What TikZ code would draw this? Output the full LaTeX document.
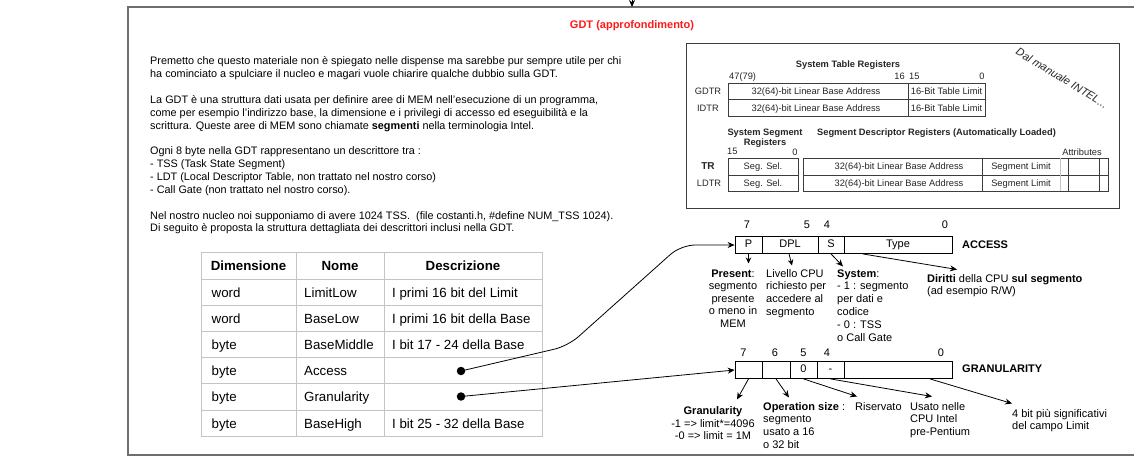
\documentclass[tikz,border=0pt]{standalone}
\usepackage{fontspec}
\setmainfont{Liberation Sans}
\usetikzlibrary{arrows.meta,calc}
\definecolor{frameg}{HTML}{6E6E6E}
\definecolor{tblg}{HTML}{C4C4C4}
\definecolor{titred}{HTML}{FF1A1A}
\definecolor{intg}{HTML}{3C3C3C}
\definecolor{intt}{HTML}{262626}
\newcommand\fsz[2]{\fontsize{#1}{#2}\selectfont}
\tikzset{
  para/.style={font=\fsz{10.85}{12.85}, inner sep=0, align=left, anchor=base west},
  ann/.style={font=\fsz{11}{12.8}, inner sep=0, align=left, anchor=base west},
  annc/.style={font=\fsz{11}{12.5}, inner sep=0, align=center, anchor=base},
  bitlbl/.style={font=\fsz{11}{13}, inner sep=0, anchor=base},
  regcell/.style={draw, line width=0.8pt, minimum height=17pt, inner sep=0, text height=8pt, text depth=2.3pt, font=\fsz{11}{13}},
  regname/.style={font=\bfseries\fsz{11}{13}, inner sep=0, anchor=base west},
  tcell/.style={font=\fsz{13.3}{15}, inner sep=0, anchor=base west},
  thead/.style={font=\bfseries\fsz{13.3}{15}, inner sep=0, anchor=base},
  itxt/.style={font=\fsz{9.3}{10}, inner sep=0, anchor=base, text=intt},
  ibold/.style={font=\bfseries\fsz{9.3}{10}, inner sep=0, anchor=base, text=intt},
  conn/.style={line width=0.8pt, -{Stealth[length=7pt,width=6pt]}},
  tbl/.style={draw=tblg, line width=1pt},
  iline/.style={draw=intg, line width=0.7pt},
  dot/.style={circle, fill, inner sep=0, minimum size=8.5pt},
}
\begin{document}
\begin{tikzpicture}[x=1pt,y=-1pt]
\useasboundingbox (0,0) rectangle (1134,462);
\fill[white] (0,0) rectangle (1134,462);
% outer frame
\draw[frameg, line width=1.4pt] (128,7) rectangle (1150,455);
\coordinate (inA) at (632,-6);
\coordinate (inB) at (632,7);
\draw[conn] (inA) -- (inB);
\node[font=\bfseries\fsz{11}{13}, text=titred, inner sep=0, anchor=base] (title) at (632,29) {GDT (approfondimento)};

% intro text (anchor = baseline of last line)
\node[para] (intro) at (150,232) {Premetto che questo materiale non è spiegato nelle dispense ma sarebbe pur sempre utile per chi\\
ha cominciato a spulciare il nucleo e magari vuole chiarire qualche dubbio sulla GDT.\\[12.85pt]
La GDT è una struttura dati usata per definire aree di MEM nell'esecuzione di un programma,\\
come per esempio l'indirizzo base, la dimensione e i privilegi di accesso ed eseguibilità e la\\
scrittura. Queste aree di MEM sono chiamate \textbf{segmenti} nella terminologia Intel.\\[12.85pt]
Ogni 8 byte nella GDT rappresentano un descrittore tra :\\
- TSS (Task State Segment)\\
- LDT (Local Descriptor Table, non trattato nel nostro corso)\\
- Call Gate (non trattato nel nostro corso).\\[12.85pt]
Nel nostro nucleo noi supponiamo di avere 1024 TSS.\ \ (file costanti.h, \#define NUM\_TSS 1024).\\
Di seguito è proposta la struttura dettagliata dei descrittori inclusi nella GDT.};

% table
\draw[tbl] (201,252.3) rectangle (542,436.7);
\foreach \yy in {279,305.7,331.7,357.3,383.3,410} \draw[tbl] (201,\yy) -- (542,\yy);
\foreach \xx in {296,384.3} \draw[tbl] (\xx,252.3) -- (\xx,436.7);
\node[thead] (hDim) at (248.5,270.4) {Dimensione};
\node[thead] (hNom) at (340,270.4) {Nome};
\node[thead] (hDes) at (463,270.4) {Descrizione};
\node[tcell] (r1a) at (211.5,297) {word};
\node[tcell] (r1b) at (304,297) {LimitLow};
\node[tcell] (r1c) at (392,297) {I primi 16 bit del Limit};
\node[tcell] (r2a) at (211.5,323.4) {word};
\node[tcell] (r2b) at (304,323.4) {BaseLow};
\node[tcell] (r2c) at (392,323.4) {I primi 16 bit della Base};
\node[tcell] (r3a) at (211.5,349.2) {byte};
\node[tcell] (r3b) at (304,349.2) {BaseMiddle};
\node[tcell] (r3c) at (392,349.2) {I bit 17 - 24 della Base};
\node[tcell] (r4a) at (211.5,375) {byte};
\node[tcell] (r4b) at (304,375) {Access};
\node[tcell] (r5a) at (211.5,401.4) {byte};
\node[tcell] (r5b) at (304,401.4) {Granularity};
\node[tcell] (r6a) at (211.5,428) {byte};
\node[tcell] (r6b) at (304,428) {BaseHigh};
\node[tcell] (r6c) at (392,428) {I bit 25 - 32 della Base};
\node[dot] (dA) at (461,371) {};
\node[dot] (dG) at (461,396.5) {};

% ACCESS register
\node[regcell, minimum width=27pt] (aP) at (748.5,245) {P};
\node[regcell, minimum width=56pt] (aDPL) at (790,245) {DPL};
\node[regcell, minimum width=26pt] (aS) at (831,245) {S};
\node[regcell, minimum width=108pt] (aType) at (898,245) {Type};
\node[bitlbl] (ab7) at (747,229) {7};
\node[bitlbl] (ab5) at (807,229) {5};
\node[bitlbl] (ab4) at (827,229) {4};
\node[bitlbl] (ab0) at (945,229) {0};
\node[regname] (accN) at (962,248.5) {ACCESS};

\coordinate (k1) at (568,346);
\coordinate (k2) at (681,245);
\draw[conn, rounded corners=14pt] (dA.center) -- (k1) -- (k2) -- (aP.west);

\coordinate (eP) at (748.5,263.5);
\coordinate (eDPL) at (792,265.5);
\coordinate (eS) at (843,266.5);
\coordinate (eT) at (957,269.5);
\draw[conn, -{Stealth[length=6pt,width=5.5pt]}] (aP.south) -- (eP);
\draw[conn, -{Stealth[length=6pt,width=5.5pt]}] ($(aDPL.south)+(-1,0)$) -- (eDPL);
\draw[conn] (aS.south) -- (eS);
\draw[conn] ($(aType.south west)+(19,0)$) -- (eT);

\node[annc] (lPres) at (733,327) {\textbf{Present}:\\segmento\\presente\\o meno in\\MEM};
\node[ann] (lLiv) at (766,315.4) {Livello CPU\\richiesto per\\accedere al\\segmento};
\node[ann] (lSys) at (837,341) {\textbf{System}:\\- 1 : segmento\\per dati e\\codice\\- 0 : TSS\\o Call Gate};
\node[ann] (lDir) at (927,294.8) {\textbf{Diritti} della CPU \textbf{sul segmento}\\(ad esempio R/W)};

% GRANULARITY register
\node[regcell, minimum width=27pt] (g1) at (748.5,370) {};
\node[regcell, minimum width=28pt] (g2) at (776,370) {};
\node[regcell, minimum width=27pt] (g3) at (803.5,370) {0};
\node[regcell, minimum width=27pt] (g4) at (830.5,370) {-};
\node[regcell, minimum width=108pt] (g5) at (898,370) {};
\node[bitlbl] (gb7) at (743.5,356.5) {7};
\node[bitlbl] (gb6) at (775,356.5) {6};
\node[bitlbl] (gb5) at (803.5,356.5) {5};
\node[bitlbl] (gb4) at (827,356.5) {4};
\node[bitlbl] (gb0) at (941,356.5) {0};
\node[regname] (granN) at (962,372.5) {GRANULARITY};

\draw[conn] (dG.center) -- (g1.west);

\coordinate (f1) at (737,399.5);
\coordinate (f2) at (789,397.5);
\coordinate (f3) at (857,396.5);
\coordinate (f4) at (932,396.5);
\coordinate (f5) at (1012,403.5);
\draw[conn] (g1.south) -- (f1);
\draw[conn] (g2.south) -- (f2);
\draw[conn] (g3.south) -- (f3);
\draw[conn] (g4.south) -- (f4);
\draw[conn] ($(g5.south)+(32,0)$) -- (f5);

\node[annc] (lGran) at (713,439.5) {\textbf{Granularity}\\-1 => limit*=4096\\-0 => limit = 1M};
\node[ann] (lOp) at (763,448.4) {\textbf{Operation size} :\\segmento\\usato a 16\\o 32 bit};
\node[ann] (lRis) at (855,410) {Riservato};
\node[ann] (lUs) at (910,435.6) {Usato nelle\\CPU Intel\\pre-Pentium};
\node[ann] (l4b) at (1012,429.8) {4 bit più significativi\\del campo Limit};

% Intel manual excerpt
\draw[draw=intg, line width=0.9pt] (686,43) rectangle (1119,208);
\node[ibold] (iSTR) at (848,67.4) {System Table Registers};
\node[itxt, anchor=base west] (i47) at (729,79.4) {47(79)};
\node[itxt, anchor=base east] (i16) at (905,79.4) {16};
\node[itxt, anchor=base west] (i15) at (909,79.4) {15};
\node[itxt] (i0a) at (982,79.4) {0};
\draw[iline] (728,83) rectangle (985,116);
\draw[iline] (728,99.5) -- (985,99.5);
\draw[iline] (908,83) -- (908,116);
\node[itxt] (iGDTR) at (708,94.7) {GDTR};
\node[itxt] (iIDTR) at (708,111.2) {IDTR};
\node[itxt] (iG1) at (816,94.7) {32(64)-bit Linear Base Address};
\node[itxt] (iG2) at (946.5,94.7) {16-Bit Table Limit};
\node[itxt] (iI1) at (816,111.2) {32(64)-bit Linear Base Address};
\node[itxt] (iI2) at (946.5,111.2) {16-Bit Table Limit};
\node[ibold, align=center] (iSSR) at (765,145.4) {System Segment\\Registers};
\node[ibold] (iSDR) at (936.5,135.4) {Segment Descriptor Registers (Automatically Loaded)};
\node[itxt, anchor=base west] (i15b) at (727,154.4) {15};
\node[itxt] (i0b) at (795,155.4) {0};
\node[itxt] (iAttr) at (1082,155.4) {Attributes};
\draw[iline] (728,158) rectangle (798,191);
\draw[iline] (728,175) -- (798,175);
\draw[iline] (803,158) rectangle (1108,191);
\draw[iline] (803,175) -- (1108,175);
\draw[iline] (982,158) -- (982,191);
\draw[draw=gray!45, line width=0.6pt] (1060,158) -- (1060,191);
\draw[iline] (1068,158) -- (1068,191);
\draw[iline] (1099,158) -- (1099,191);
\node[ibold, font=\bfseries\fsz{10}{11}] (iTR) at (708,170) {TR};
\node[itxt] (iLDTR) at (709,186.4) {LDTR};
\node[itxt] (iSS1) at (763,170) {Seg. Sel.};
\node[itxt] (iSS2) at (763,186.4) {Seg. Sel.};
\node[itxt] (iB1) at (899,170) {32(64)-bit Linear Base Address};
\node[itxt] (iB2) at (899,186.4) {32(64)-bit Linear Base Address};
\node[itxt] (iL1) at (1021,170) {Segment Limit};
\node[itxt] (iL2) at (1021,186.4) {Segment Limit};
\node[font=\itshape\fsz{11}{12}, rotate=-31.5, inner sep=0, text=intt] (iDal) at (1062,78) {Dal manuale INTEL...};
\end{tikzpicture}
\end{document}
